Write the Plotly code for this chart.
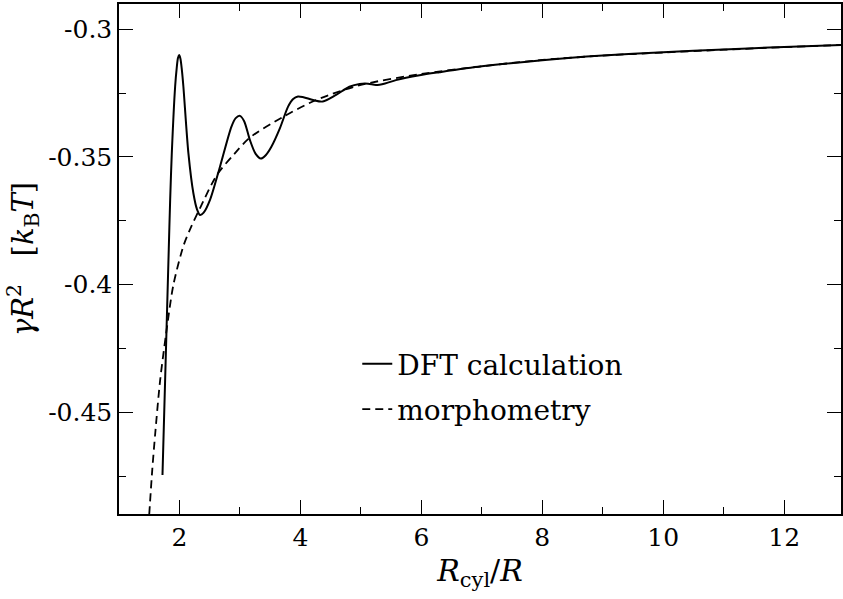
import plotly.graph_objects as go

# DFT calculation (solid curve)
dft_x = [1.719, 1.781, 1.823, 1.846, 1.873, 1.928, 1.955, 1.975, 1.994, 2.015, 2.04,
         2.065, 2.148, 2.23, 2.29, 2.34, 2.40, 2.505, 2.67, 2.86, 2.93, 3.0, 3.07, 3.164,
         3.26, 3.345, 3.43, 3.52, 3.66, 3.796, 3.88, 3.96, 4.05, 4.21, 4.37, 4.59, 4.81,
         4.98, 5.12, 5.25, 5.40, 5.58, 5.97, 6.3, 7.0, 8.0, 9.0, 10.0, 11.0, 12.0, 12.95]
dft_y = [-0.4745, -0.4218, -0.386, -0.3668, -0.3486, -0.3225, -0.3150, -0.3112, -0.3101, -0.3114, -0.3160,
         -0.3225, -0.3486, -0.3642, -0.3705, -0.3727, -0.3718, -0.3668, -0.3538, -0.3381, -0.3348, -0.3339, -0.3360, -0.3433,
         -0.3488, -0.3506, -0.3492, -0.3460, -0.3388, -0.3303, -0.3273, -0.3263, -0.3266, -0.3277, -0.3283, -0.3257, -0.3225,
         -0.3214, -0.3213, -0.3218, -0.3212, -0.3199, -0.3180, -0.3168, -0.3145, -0.3121, -0.3103, -0.3090, -0.3079, -0.3069, -0.3061]

# morphometry (dashed curve)
morph_x = [1.50, 1.55, 1.60, 1.68, 1.78, 1.90, 2.07, 2.20, 2.34, 2.62, 2.90, 3.16, 3.70,
           4.26, 5.0, 6.0, 7.0, 8.0, 9.0, 10.0, 11.0, 12.0, 12.95]
morph_y = [-0.4900, -0.4725, -0.4580, -0.4375, -0.4190, -0.4000, -0.3845, -0.3770, -0.3700, -0.3570, -0.3490, -0.3425, -0.3345,
           -0.3277, -0.3218, -0.3175, -0.3145, -0.3120, -0.3103, -0.3091, -0.3080, -0.3070, -0.3061]

x_ticks = [2, 4, 6, 8, 10, 12]
x_ticktext = ["2", "4", "6", "8", "10", "12"]
y_ticks = [-0.45, -0.4, -0.35, -0.3]
y_ticktext = ["-0.45", "-0.4", "-0.35", "-0.3"]

FONT = "DejaVu Serif"

fig = go.Figure()
fig.add_trace(go.Scatter(x=dft_x, y=dft_y, mode="lines", name="DFT calculation",
                         line=dict(color="black", width=2, shape="spline", smoothing=0.8),
                         legendgroup="a"))
fig.add_trace(go.Scatter(x=morph_x, y=morph_y, mode="lines", name="morphometry",
                         line=dict(color="black", width=1.8, dash="8px,5px", shape="spline", smoothing=0.8),
                         legendgroup="b"))

axis_common = dict(
    showgrid=False, zeroline=False, showline=True, linecolor="black", linewidth=1.5,
    mirror="ticks", ticks="inside", ticklen=14, tickwidth=1.3, tickcolor="black",
    tickfont=dict(family=FONT, size=25, color="black"),
)

fig.update_layout(
    width=843, height=599,
    margin=dict(l=119, r=0, t=4, b=85),
    paper_bgcolor="white", plot_bgcolor="white",
    font=dict(family=FONT, size=25, color="black"),
    showlegend=True,
    legend=dict(x=0.33, y=0.343, xanchor="left", yanchor="top",
                bgcolor="rgba(0,0,0,0)", font=dict(family=FONT, size=28, color="black"),
                tracegroupgap=6, traceorder="grouped"),
    xaxis=dict(range=[1, 12.94], tickvals=x_ticks, ticktext=x_ticktext,
               minor=dict(ticks="inside", ticklen=7, tickwidth=1.3, tickcolor="black", dtick=1, tick0=1),
               title=dict(text="<i>R</i><sub>cyl</sub>/<i>R</i>", font=dict(family=FONT, size=30), standoff=9),
               **axis_common),
    yaxis=dict(range=[-0.4898, -0.2901], tickvals=y_ticks, ticktext=y_ticktext,
               minor=dict(ticks="inside", ticklen=7, tickwidth=1.3, tickcolor="black", dtick=0.025, tick0=-0.5),
               title=dict(text="<i>γR</i><sup>2</sup>   [<i>k</i><sub>B</sub><i>T</i>]", font=dict(family=FONT, size=29), standoff=6),
               **axis_common),
)

fig.write_html("out.html")
